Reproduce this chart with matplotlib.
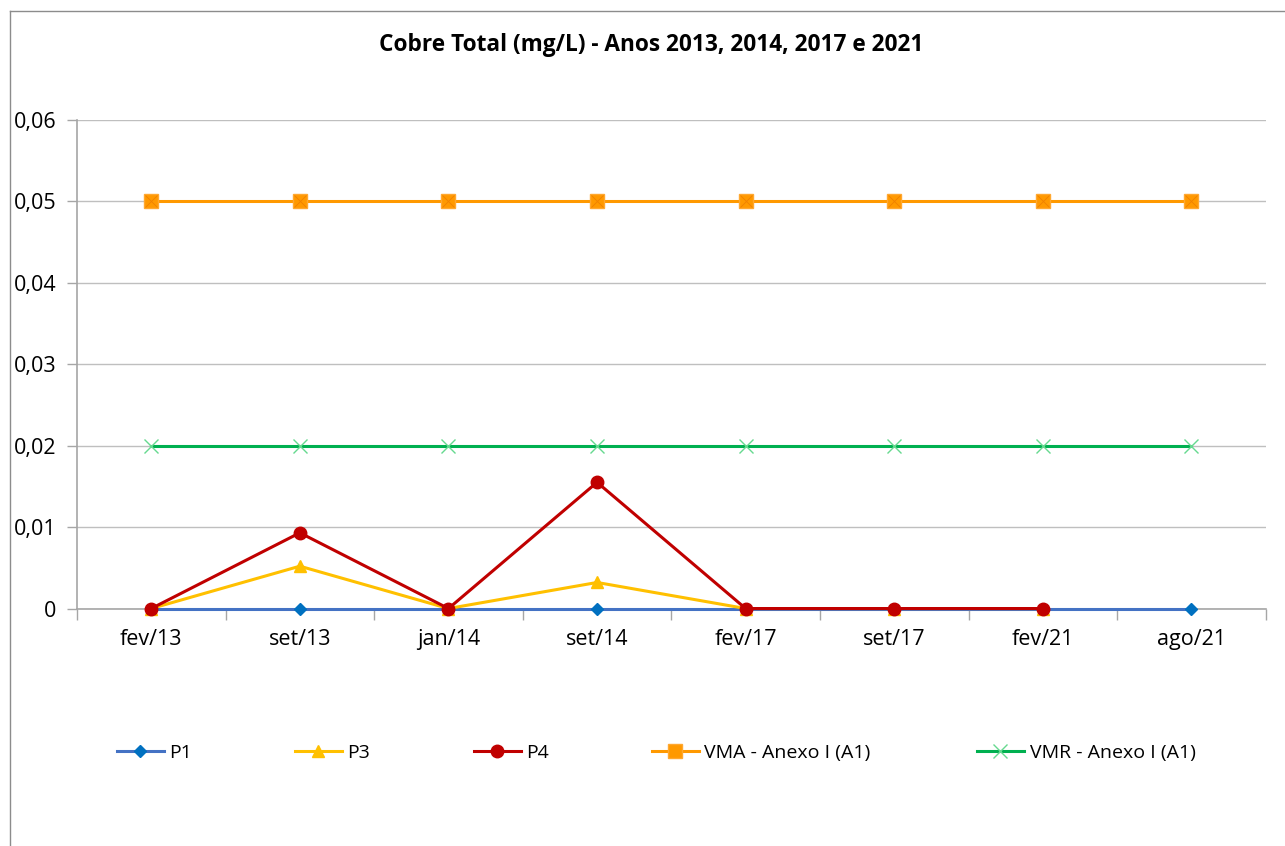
import matplotlib.pyplot as plt
from matplotlib.lines import Line2D
from matplotlib.ticker import FuncFormatter
import numpy as np

plt.rcParams['font.family'] = ['Open Sans', 'DejaVu Sans']

meses = ['fev/13', 'set/13', 'jan/14', 'set/14', 'fev/17', 'set/17', 'fev/21', 'ago/21']
p1 = [0, 0, 0, 0, 0, 0, 0, 0]
p3 = [0, 0.0052, 0, 0.0032, 0, 0, 0]
p4 = [0, 0.0093, 0, 0.0155, 0, 0, 0]
vma = [0.05] * 8
vmr = [0.02] * 8

fig = plt.figure(figsize=(12.85, 8.46), dpi=100)
ax = fig.add_axes([0.0599, 0.2807, 0.9251, 0.5775])

x = np.arange(len(meses))
lw = 2.2

ax.plot(x, p1, color='#4472C4', lw=lw, marker='D', ms=6, mfc='#0070C0', mec='#0070C0', label='P1', zorder=3, clip_on=False)
ax.plot(x[:len(p3)], p3, color='#FFC000', lw=lw, marker='^', ms=8, mfc='#FFC000', mec='#FFC000', label='P3', zorder=4, clip_on=False)
ax.plot(x[:len(p4)], p4, color='#C00000', lw=lw, marker='o', ms=9, mfc='#C00000', mec='#C00000', label='P4', zorder=5, clip_on=False)
ax.plot(x, vma, color='#FF9900', lw=lw, marker='s', ms=10, mfc='#FF9900', mec='#FFA830', label='VMA - Anexo I (A1)', zorder=6)
ax.plot(x, vma, ls='none', marker='x', ms=9, mec='#F08000', mew=0.6, zorder=7)
ax.plot(x, vmr, color='#00B050', lw=lw, marker='x', ms=10, mec='#66D98F', mew=1.0, label='VMR - Anexo I (A1)', zorder=6)

ax.set_xlim(-0.5, 7.5)
ax.set_ylim(0, 0.06)
ax.set_yticks(np.arange(0, 0.061, 0.01))
ax.yaxis.set_major_formatter(FuncFormatter(lambda v, p: '0' if abs(v) < 1e-9 else ('%.2f' % v).replace('.', ',')))
ax.set_xticks(x)
ax.set_xticklabels(meses)
ax.set_xticks(np.arange(-0.5, 8, 1), minor=True)
ax.tick_params(axis='x', which='major', length=0, pad=15, labelsize=15.5)
ax.tick_params(axis='x', which='minor', length=8, color='#A6A6A6', width=1)
ax.tick_params(axis='y', length=7, color='#A6A6A6', width=1, labelsize=15.5, pad=8)
ax.grid(axis='y', color='#BFBFBF', lw=1)
ax.set_axisbelow(True)
for s in ['top', 'right']:
    ax.spines[s].set_visible(False)
ax.spines['left'].set_color('#A6A6A6')
ax.spines['bottom'].set_color('#A6A6A6')
ax.spines['left'].set_linewidth(1.2)
ax.spines['bottom'].set_linewidth(1.2)

fig.text(0.507, 0.947, 'Cobre Total (mg/L) - Anos 2013, 2014, 2017 e 2021',
         ha='center', va='center', fontsize=16.3, fontweight='bold')

# legend entries placed one by one like the original
handles, labels = ax.get_legend_handles_labels()
leg_x = [117, 295, 474, 652, 977]
for h, l, lx in zip(handles, labels, leg_x):
    fig.legend([h], [l], loc='center left', bbox_to_anchor=(lx / 1285, 1 - 753 / 846),
               frameon=False, fontsize=14, handlelength=2.4, handletextpad=0.3,
               borderpad=0, borderaxespad=0)

# outer chart frame
fig.add_artist(Line2D([9.5 / 1285, 9.5 / 1285], [0, 1 - 11.5 / 846], color='#8C8C8C', lw=1))
fig.add_artist(Line2D([9.5 / 1285, 1], [1 - 11.5 / 846, 1 - 11.5 / 846], color='#8C8C8C', lw=1))

fig.savefig('out.png', dpi=100)
